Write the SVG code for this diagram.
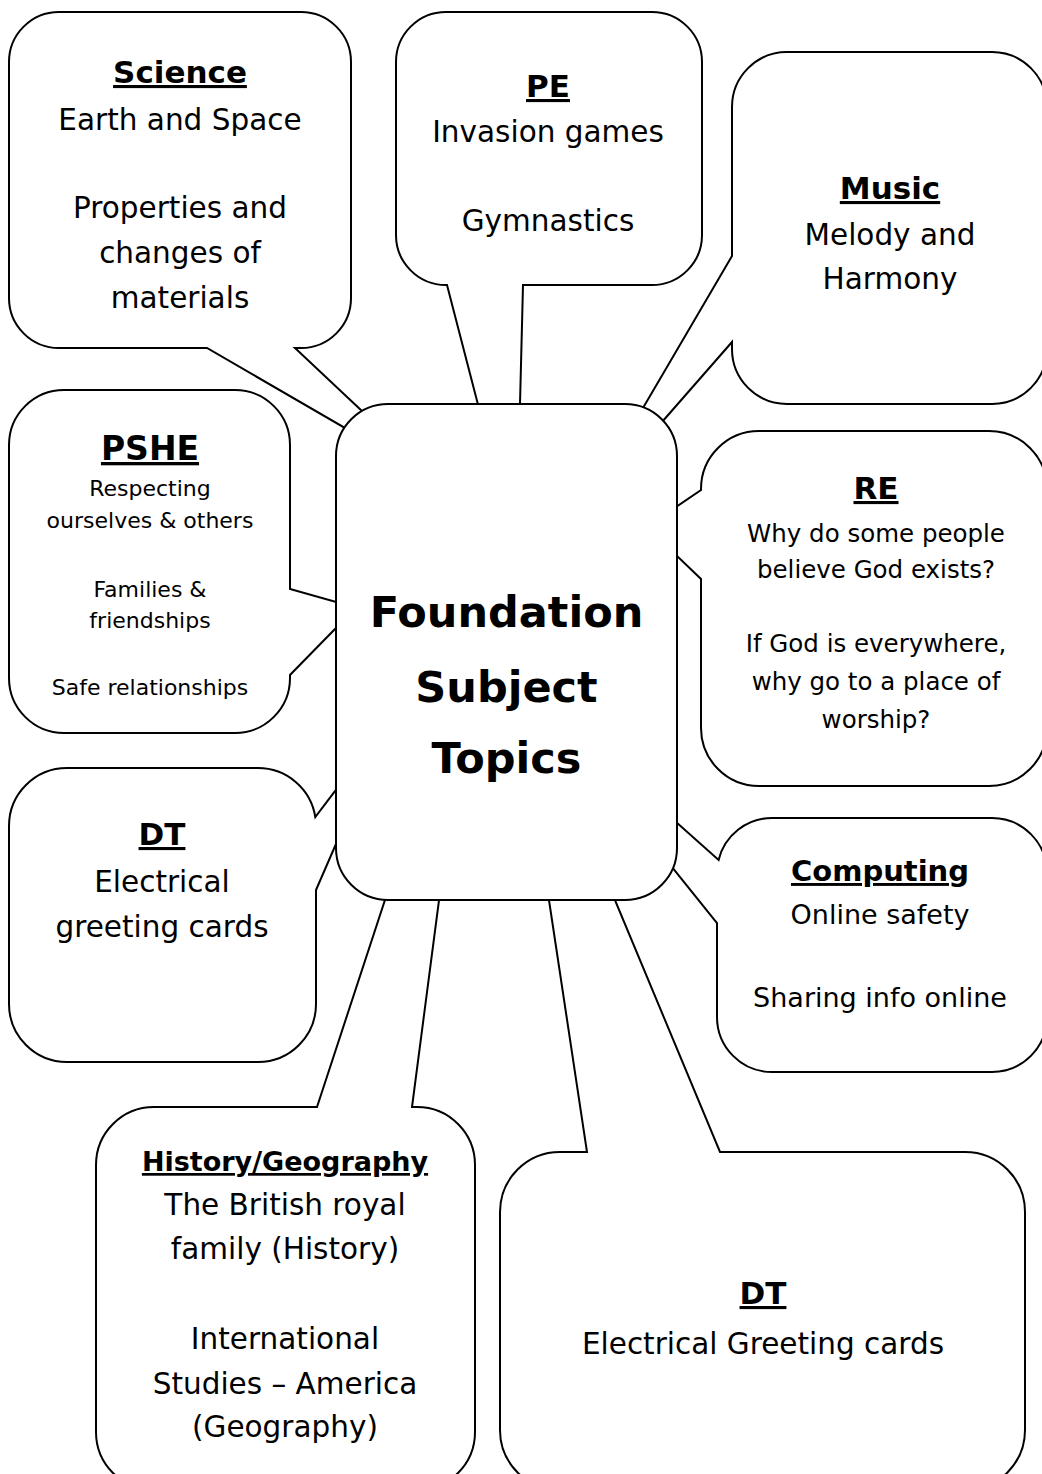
<svg xmlns="http://www.w3.org/2000/svg" width="1042" height="1474" viewBox="0 0 1042 1474">
<style>
.b{fill:#fff;stroke:#000;stroke-width:2;stroke-linejoin:miter}
text{font-family:"DejaVu Sans","Liberation Sans",sans-serif;fill:#000;text-anchor:middle}
.t{font-weight:bold;text-decoration:underline}
.m{font-size:29.5px}
.c{font-weight:bold;font-size:43px}
</style>
<rect width="1042" height="1474" fill="#fff"/>
<g id="connectors"></g>
<g id="science">
<path class="b" d="M59,12 H301 A50,50 0 0 1 351,62 V298 A50,50 0 0 1 301,348 H295 L375,423.3 L360,436.7 L207,348 H59 A50,50 0 0 1 9,298 V62 A50,50 0 0 1 59,12 Z"/>
<text class="t" x="180" y="83" font-size="31">Science</text>
<text class="m" x="180" y="130">Earth and Space</text>
<text class="m" x="180" y="218">Properties and</text>
<text class="m" x="180" y="263">changes of</text>
<text class="m" x="180" y="308">materials</text>
</g>
<g id="pe">
<path class="b" d="M446,12 H652 A50,50 0 0 1 702,62 V235 A50,50 0 0 1 652,285 H523 L519.6,420 L482,420 L447,285 H446 A50,50 0 0 1 396,235 V62 A50,50 0 0 1 446,12 Z"/>
<text class="t" x="548" y="97" font-size="31">PE</text>
<text class="m" x="548" y="142">Invasion games</text>
<text class="m" x="548" y="231">Gymnastics</text>
</g>
<g id="music">
<path class="b" d="M787,52 H992 A55,55 0 0 1 1047,107 V349 A55,55 0 0 1 992,404 H787 A55,55 0 0 1 732,349 V342 L648,438 L633,425 L732,256 V107 A55,55 0 0 1 787,52 Z"/>
<text class="t" x="890" y="199" font-size="31">Music</text>
<text class="m" x="890" y="245">Melody and</text>
<text class="m" x="890" y="289">Harmony</text>
</g>
<g id="pshe">
<path class="b" d="M64,390 H235 A55,55 0 0 1 290,445 V589 L346,604.8 L346,617.8 L290,675 V678 A55,55 0 0 1 235,733 H64 A55,55 0 0 1 9,678 V445 A55,55 0 0 1 64,390 Z"/>
<text class="t" x="150" y="460" font-size="33">PSHE</text>
<text x="150" y="496" font-size="22">Respecting</text>
<text x="150" y="528" font-size="22">ourselves &amp; others</text>
<text x="150" y="597" font-size="22">Families &amp;</text>
<text x="150" y="628" font-size="22">friendships</text>
<text x="150" y="695" font-size="22">Safe relationships</text>
</g>
<g id="re">
<path class="b" d="M759,431 H989 A58,58 0 0 1 1047,489 V728 A58,58 0 0 1 989,786 H759 A58,58 0 0 1 701,728 V579 L666,545.4 L666,513.8 L701,490 V489 A58,58 0 0 1 759,431 Z"/>
<text class="t" x="876" y="499" font-size="31">RE</text>
<text x="876" y="542" font-size="24.5">Why do some people</text>
<text x="876" y="578" font-size="24.5">believe God exists?</text>
<text x="876" y="652" font-size="24.5">If God is everywhere,</text>
<text x="876" y="690" font-size="24.5">why go to a place of</text>
<text x="876" y="728" font-size="24.5">worship?</text>
</g>
<g id="dt-left">
<path class="b" d="M67,768 H258 A58,58 0 0 1 315.3,817 L350,771.3 L350,811.7 L316,890 V1004 A58,58 0 0 1 258,1062 H67 A58,58 0 0 1 9,1004 V826 A58,58 0 0 1 67,768 Z"/>
<text class="t" x="162" y="845" font-size="31">DT</text>
<text class="m" x="162" y="892">Electrical</text>
<text class="m" x="162" y="937">greeting cards</text>
</g>
<g id="computing">
<path class="b" d="M772,818 H992 A55,55 0 0 1 1047,873 V1017 A55,55 0 0 1 992,1072 H772 A55,55 0 0 1 717,1017 V923 L662,854.6 L662,809.5 L718.6,860 A55,55 0 0 1 772,818 Z"/>
<text class="t" x="880" y="881" font-size="29">Computing</text>
<text x="880" y="924" font-size="27">Online safety</text>
<text x="880" y="1007" font-size="27">Sharing info online</text>
</g>
<g id="history-geography">
<path class="b" d="M154,1107 H317 L389.9,885 L441,885 L412,1107 H417 A58,58 0 0 1 475,1165 V1432 A58,58 0 0 1 417,1490 H154 A58,58 0 0 1 96,1432 V1165 A58,58 0 0 1 154,1107 Z"/>
<text class="t" x="285" y="1171" font-size="27">History/Geography</text>
<text class="m" x="285" y="1215">The British royal</text>
<text class="m" x="285" y="1259">family (History)</text>
<text class="m" x="285" y="1349">International</text>
<text class="m" x="285" y="1394">Studies – America</text>
<text class="m" x="285" y="1437">(Geography)</text>
</g>
<g id="dt-right">
<path class="b" d="M560,1152 H587 L546.7,885 L608.7,885 L720,1152 H965 A60,60 0 0 1 1025,1212 V1430 A60,60 0 0 1 965,1490 H560 A60,60 0 0 1 500,1430 V1212 A60,60 0 0 1 560,1152 Z"/>
<text class="t" x="763" y="1304" font-size="31">DT</text>
<text class="m" x="763" y="1354">Electrical Greeting cards</text>
</g>
<g id="center">
<rect class="b" x="336" y="404" width="341" height="496" rx="52" ry="52"/>
<text class="c" x="506.5" y="627">Foundation</text>
<text class="c" x="506.5" y="702">Subject</text>
<text class="c" x="506.5" y="773">Topics</text>
</g>
</svg>
